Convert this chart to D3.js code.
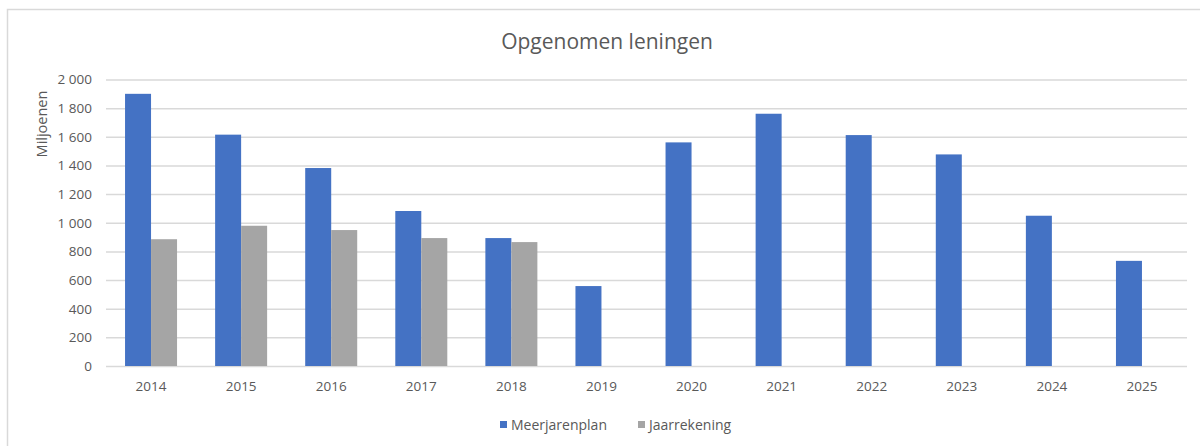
<!DOCTYPE html>
<html>
<head>
<meta charset="utf-8">
<script src="https://cdn.jsdelivr.net/npm/d3@7"></script>
<style>
  body { margin: 0; background: #fff; }
  text { font-family: "Open Sans", "Noto Sans", sans-serif; fill: #595959; }
  .grid line { stroke: #d9d9d9; stroke-width: 1.5; }
  .grid path { display: none; }
</style>
</head>
<body>
<div class="chart"></div>
<script>
// Data
let years = ["2014", "2015", "2016", "2017", "2018", "2019", "2020", "2021", "2022", "2023", "2024", "2025"];
let meerjarenplan = [1900, 1615, 1382, 1082, 893, 558, 1561, 1761, 1612, 1477, 1049, 734];
let jaarrekening = [885, 979, 949, 893, 865, null, null, null, null, null, null, null];
let yTicks = [0, 200, 400, 600, 800, 1000, 1200, 1400, 1600, 1800, 2000];
let seriesNames = ["Meerjarenplan", "Jaarrekening"];
let colors = ["#4472c4", "#a5a5a5"];

let svgWidth = 1200;
let svgHeight = 446;

let margin = { top: 79.5, right: 13, bottom: 80, left: 106 };
let chartWidth = svgWidth - margin.left - margin.right;
let chartHeight = 366 - margin.top;

let svg = d3.select(".chart")
  .append("svg")
  .attr("width", svgWidth)
  .attr("height", svgHeight);

// chart border
svg.append("rect")
  .attr("x", 7.5).attr("y", 9.5)
  .attr("width", 1220).attr("height", 460)
  .attr("fill", "none")
  .attr("stroke", "#d9d9d9")
  .attr("stroke-width", 1.5);

let chart = svg.append("g")
  .attr("transform", `translate(${margin.left}, ${margin.top})`);

// Scales
let x = d3.scaleBand().domain(years).range([0, chartWidth]);
let x1 = d3.scaleBand().domain(seriesNames).range([x.bandwidth() / 2 - 26, x.bandwidth() / 2 + 26]);
let y = d3.scaleLinear().domain([0, 2000]).range([chartHeight, 0]);

// Gridlines
chart.append("g")
  .attr("class", "grid")
  .call(d3.axisLeft(y).tickValues(yTicks).tickSize(-chartWidth).tickFormat(""));

// Y axis labels (space as thousands separator)
let yAxis = chart.append("g")
  .call(d3.axisLeft(y).tickValues(yTicks).tickSize(0).tickPadding(14).tickFormat(d => d3.format(",")(d).replace(/,/g, " ")));
yAxis.select(".domain").remove();
yAxis.selectAll("text")
  .style("font-size", "13.5px")
  .style("font-family", "'Open Sans', sans-serif")
  .attr("fill", "#595959");

// X axis labels
let xAxis = chart.append("g")
  .attr("transform", `translate(0, ${chartHeight})`)
  .call(d3.axisBottom(x).tickSize(0).tickPadding(15));
xAxis.select(".domain").remove();
xAxis.selectAll("text")
  .style("font-size", "13.5px")
  .style("font-family", "'Open Sans', sans-serif")
  .attr("fill", "#595959");

// Bars
let allSeries = [meerjarenplan, jaarrekening];
allSeries.forEach(function(values, si) {
  chart.append("g")
    .selectAll("rect")
    .data(years.map((yr, i) => ({ year: yr, value: values[i] })).filter(d => d.value != null))
    .enter().append("rect")
    .attr("x", d => x(d.year) + x1(seriesNames[si]))
    .attr("y", d => y(d.value))
    .attr("width", x1.bandwidth())
    .attr("height", d => chartHeight - y(d.value))
    .attr("fill", colors[si]);
});

// Title
svg.append("text")
  .attr("x", 607)
  .attr("y", 49)
  .attr("text-anchor", "middle")
  .style("font-size", "21px")
  .text("Opgenomen leningen");

// Y axis title
svg.append("text")
  .attr("transform", "translate(47, 124) rotate(-90)")
  .attr("text-anchor", "middle")
  .style("font-size", "14.5px")
  .attr("fill", "#404040")
  .text("Miljoenen");

// Legend
let legendX = [500, 638];
seriesNames.forEach(function(name, i) {
  svg.append("rect")
    .attr("x", legendX[i]).attr("y", 421)
    .attr("width", 7).attr("height", 7)
    .attr("fill", colors[i]);
  svg.append("text")
    .attr("x", legendX[i] + 11)
    .attr("y", 430)
    .style("font-size", "14px")
    .text(name);
});
</script>
</body>
</html>
